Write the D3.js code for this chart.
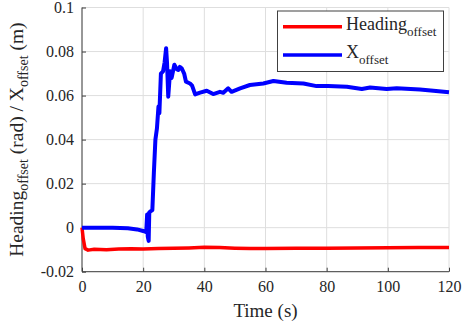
<!DOCTYPE html>
<html>
<head>
<meta charset="utf-8">
<script src="https://cdn.jsdelivr.net/npm/d3@7"></script>
<style>
  body { margin: 0; background: #fff; }
  svg text { font-family: "Liberation Serif", serif !important; fill: #262626; }
</style>
</head>
<body>
<div id="my_dataviz"></div>
<script>
// data: [time (s), value]
var heading_offset = [
    [0, 0], [0.4, -0.005], [1, -0.0095], [2, -0.0102], [4, -0.0098], [8, -0.0100],
    [12, -0.0097], [16, -0.0096], [20, -0.0097], [25, -0.0095], [30, -0.0094],
    [35, -0.0092], [40, -0.0089], [45, -0.0090], [50, -0.0093], [55, -0.0095],
    [60, -0.0095], [70, -0.0094], [80, -0.0093], [90, -0.0092], [100, -0.0091],
    [110, -0.0090], [120, -0.0090]
];
var x_offset = [
    [0, 0], [5, 0], [10, 0], [15, -0.0003], [18, -0.0008], [20, -0.0015], [21, -0.002],
    [21.3, 0.006], [21.5, -0.004], [21.8, -0.006], [22, 0.007], [22.5, 0.0075], [23, 0.008],
    [23.5, 0.025], [24, 0.04], [24.5, 0.045], [25, 0.055], [25.3, 0.052], [25.8, 0.07],
    [26.5, 0.071], [27, 0.075], [27.5, 0.0815], [27.8, 0.075], [28.2, 0.0595], [28.8, 0.071],
    [29.3, 0.068], [30.2, 0.074], [31, 0.072], [31.5, 0.0716], [32, 0.073], [32.6, 0.0724],
    [33.4, 0.070], [34, 0.0663], [35.3, 0.0655], [36, 0.0645], [37, 0.0605], [38.6, 0.0613],
    [40.8, 0.0622], [42.9, 0.0607], [45.1, 0.0617], [46.2, 0.0613], [47.8, 0.0633],
    [48.9, 0.0617], [51.7, 0.0633], [54.9, 0.0648], [59.3, 0.0655], [62.6, 0.0666],
    [66.9, 0.0658], [72.4, 0.0655], [76.7, 0.0643], [80.5, 0.0643], [86.6, 0.064],
    [91.5, 0.063], [94.2, 0.0637], [99.6, 0.063], [102.9, 0.0633], [110.5, 0.0628],
    [114.9, 0.0622], [120, 0.0615]
];
var xTicks = [0, 20, 40, 60, 80, 100, 120];
var yTicks = [-0.02, 0, 0.02, 0.04, 0.06, 0.08, 0.1];
var yTickLabels = ['-0.02', '0', '0.02', '0.04', '0.06', '0.08', '0.1'];

var width = 463,
    height = 324;
var margin = {top: 7.5, bottom: 52.3, left: 82, right: 14};
var actualWidth = width - margin.left - margin.right;
var actualHeight = height - margin.top - margin.bottom;
var serif = '"Liberation Serif", serif';

var svg = d3.select('#my_dataviz')
    .append('svg')
    .attr('width', width)
    .attr('height', height)
    .attr('font-family', serif);

var xRange = d3.scaleLinear().domain([0, 120]).range([0, actualWidth]);
var yRange = d3.scaleLinear().domain([-0.02, 0.1]).range([actualHeight, 0]);

var g = svg.append('g')
    .attr('transform', 'translate(' + margin.left + ',' + margin.top + ')');

// grid
g.selectAll('.vgrid').data(xTicks).enter().append('line')
    .attr('x1', d => xRange(d)).attr('x2', d => xRange(d))
    .attr('y1', 0).attr('y2', actualHeight)
    .style('stroke', '#dedede').style('stroke-width', 1);
g.selectAll('.hgrid').data(yTicks).enter().append('line')
    .attr('x1', 0).attr('x2', actualWidth)
    .attr('y1', d => yRange(d)).attr('y2', d => yRange(d))
    .style('stroke', '#dedede').style('stroke-width', 1);

// axes (MATLAB style: inward ticks)
var xAxis = d3.axisBottom(xRange).tickValues(xTicks).tickSize(-4).tickPadding(10).tickFormat(d3.format('d'));
var gx = g.append('g').attr('transform', 'translate(0,' + actualHeight + ')').call(xAxis);
var yAxis = d3.axisLeft(yRange).tickValues(yTicks).tickSize(-4).tickPadding(8)
    .tickFormat((d, i) => yTickLabels[i]);
var gy = g.append('g').call(yAxis);
[gx, gy].forEach(function (a) {
    a.attr('font-family', serif).attr('font-size', 16);
    a.select('.domain').attr('stroke', '#404040').attr('d', a === gx ? 'M0,0H' + actualWidth : 'M0,0V' + actualHeight);
    a.selectAll('.tick line').attr('stroke', '#404040');
    a.selectAll('.tick text').attr('fill', '#262626');
});
gx.selectAll('.tick text').attr('dy', '0.71em').attr('y', 9);

// lines
var line = d3.line().x(d => xRange(d[0])).y(d => yRange(d[1]));
g.append('path').datum(heading_offset).attr('d', line)
    .attr('fill', 'none').attr('stroke', '#ff0000').attr('stroke-width', 3.5)
    .attr('stroke-linejoin', 'round');
g.append('path').datum(x_offset).attr('d', line)
    .attr('fill', 'none').attr('stroke', '#0000ff').attr('stroke-width', 4)
    .attr('stroke-linejoin', 'round');

// axis labels
svg.append('text')
    .attr('x', margin.left + actualWidth / 2).attr('y', 317)
    .attr('text-anchor', 'middle').attr('font-size', 19)
    .text('Time (s)');

var ylab = svg.append('text')
    .attr('transform', 'translate(23,' + (margin.top + actualHeight / 2) + ') rotate(-90)')
    .attr('text-anchor', 'middle').attr('font-size', 19.5);
ylab.append('tspan').text('Heading');
ylab.append('tspan').attr('dy', 5).attr('font-size', 14).text('offset');
ylab.append('tspan').attr('dy', -5).text(' (rad) / X');
ylab.append('tspan').attr('dy', 5).attr('font-size', 14).text('offset');
ylab.append('tspan').attr('dy', -5).text(' (m)');

// legend
var legend = svg.append('g');
legend.append('rect').attr('x', 277.5).attr('y', 11).attr('width', 166).attr('height', 60.5)
    .attr('fill', '#fff').attr('stroke', '#404040').attr('stroke-width', 1);
var items = [{name: 'Heading', color: '#ff0000', y: 26.7}, {name: 'X', color: '#0000ff', y: 55}];
items.forEach(function (it) {
    legend.append('line').attr('x1', 283).attr('x2', 342).attr('y1', it.y).attr('y2', it.y)
        .attr('stroke', it.color).attr('stroke-width', 3.5);
    var t = legend.append('text').attr('x', 346).attr('y', it.y + 3).attr('font-size', 18);
    t.append('tspan').text(it.name);
    t.append('tspan').attr('dy', 6).attr('font-size', 13).text('offset');
});
</script>
</body>
</html>
